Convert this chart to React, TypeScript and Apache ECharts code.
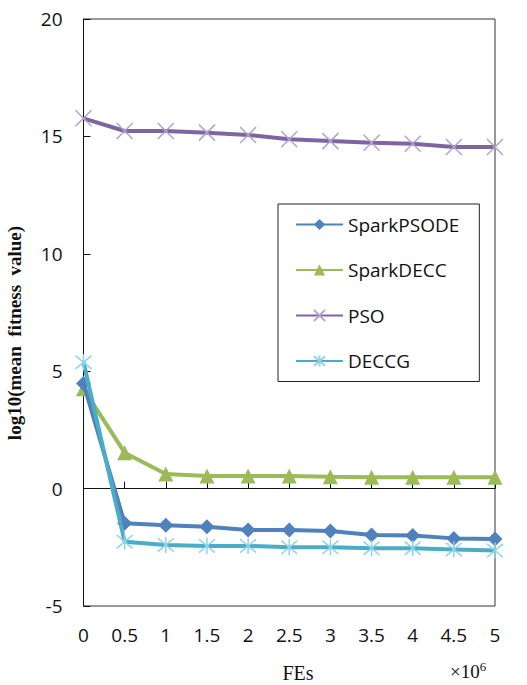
import React, { useEffect, useRef } from "react";
import * as echarts from "echarts";

const xValues = [0, 0.5, 1, 1.5, 2, 2.5, 3, 3.5, 4, 4.5, 5];
const sparkPSODE = [4.48, -1.48, -1.56, -1.62, -1.76, -1.76, -1.81, -1.98, -2.0, -2.12, -2.15];
const sparkDECC = [4.25, 1.53, 0.62, 0.54, 0.54, 0.54, 0.5, 0.48, 0.48, 0.48, 0.48];
const pso = [15.77, 15.23, 15.23, 15.16, 15.06, 14.88, 14.8, 14.73, 14.69, 14.55, 14.55];
const deccg = [5.38, -2.26, -2.4, -2.44, -2.44, -2.5, -2.5, -2.54, -2.54, -2.59, -2.64];
const seriesNames = ["SparkPSODE", "SparkDECC", "PSO", "DECCG"];
const yTitle = "log10(mean  fitness  value)";
const xTitle = "FEs";

const crossPath = "path://M0,0L10,10M10,0L0,10";
const starPath = "path://M0,0L10,10M10,0L0,10M5,-1L5,11";

const pair = (ys: number[]) => xValues.map((x, i) => [x, ys[i]]);

export default function App() {
  const ref = useRef<HTMLDivElement>(null);
  useEffect(() => {
    if (!ref.current) return;
    const chart = echarts.init(ref.current, undefined, { renderer: "svg" });
    const sans = "'Open Sans', 'Noto Sans', sans-serif";
    const tickFont = { fontFamily: sans, fontSize: 19, color: "#111" };
    const serif = "'Liberation Serif', 'DejaVu Serif', serif";
    chart.setOption({
      animation: false,
      grid: { left: 83.5, right: 32, top: 19, bottom: 79, show: true, borderColor: "#333", borderWidth: 1 },
      legend: {
        orient: "vertical",
        left: 278,
        top: 204,
        width: 203,
        backgroundColor: "#fff",
        borderColor: "#222",
        borderWidth: 1,
        padding: [11, 20, 11, 17],
        itemWidth: 47,
        itemHeight: 14,
        itemGap: 26.5,
        textStyle: { fontFamily: sans, fontSize: 19, color: "#111" },
        data: seriesNames,
      },
      xAxis: {
        type: "value",
        min: 0,
        max: 5,
        interval: 0.5,
        axisLine: { lineStyle: { color: "#111", width: 1 } },
        axisTick: { inside: true, length: 7, lineStyle: { color: "#111" } },
        axisLabel: { ...tickFont, margin: 19 },
        splitLine: { show: false },
      },
      yAxis: {
        type: "value",
        min: -5,
        max: 20,
        interval: 5,
        axisLine: { lineStyle: { color: "#111", width: 1 } },
        axisTick: { inside: true, length: 7, lineStyle: { color: "#111" } },
        axisLabel: { ...tickFont, margin: 21 },
        splitLine: { show: false },
      },
      graphic: [
        {
          type: "text",
          x: 14,
          y: 333,
          rotation: Math.PI / 2,
          style: {
            text: yTitle,
            fontFamily: serif,
            fontSize: 19,
            fontWeight: "bold",
            fill: "#111",
            align: "center",
            verticalAlign: "middle",
          },
        },
        {
          type: "text",
          x: 298,
          y: 673,
          style: {
            text: xTitle,
            fontFamily: serif,
            fontSize: 20,
            fill: "#111",
            align: "center",
            verticalAlign: "middle",
          },
        },
        {
          type: "text",
          left: 450,
          top: 660,
          style: {
            text: "{b|×10}{s|6}",
            rich: {
              b: { fontFamily: serif, fontSize: 19, fill: "#111", verticalAlign: "bottom" },
              s: { fontFamily: serif, fontSize: 13, fill: "#111", verticalAlign: "top", padding: [0, 0, 8, 0] },
            },
          },
        },
      ],
      series: [
        {
          name: "SparkPSODE",
          type: "line",
          data: pair(sparkPSODE),
          symbol: "diamond",
          symbolSize: 15,
          lineStyle: { color: "#4F81BD", width: 4 },
          itemStyle: { color: "#4F81BD" },
          z: 4,
        },
        {
          name: "SparkDECC",
          type: "line",
          data: pair(sparkDECC),
          symbol: "triangle",
          symbolSize: 15,
          lineStyle: { color: "#9BBB59", width: 4 },
          itemStyle: { color: "#9BBB59" },
          z: 3,
        },
        {
          name: "PSO",
          type: "line",
          data: pair(pso),
          symbol: crossPath,
          symbolSize: 16,
          lineStyle: { color: "#8064A2", width: 4 },
          itemStyle: { color: "none", borderColor: "#B3A2CC", borderWidth: 1.5 },
          z: 2,
        },
        {
          name: "DECCG",
          type: "line",
          data: pair(deccg),
          symbol: starPath,
          symbolSize: 16,
          lineStyle: { color: "#4BACC6", width: 4 },
          itemStyle: { color: "none", borderColor: "#8FD3E6", borderWidth: 1.5 },
          z: 5,
        },
      ],
    });
    return () => chart.dispose();
  }, []);
  return (
    <div
      ref={ref}
      style={{ position: "absolute", left: 0, top: 0, width: 527, height: 685 }}
    />
  );
}
